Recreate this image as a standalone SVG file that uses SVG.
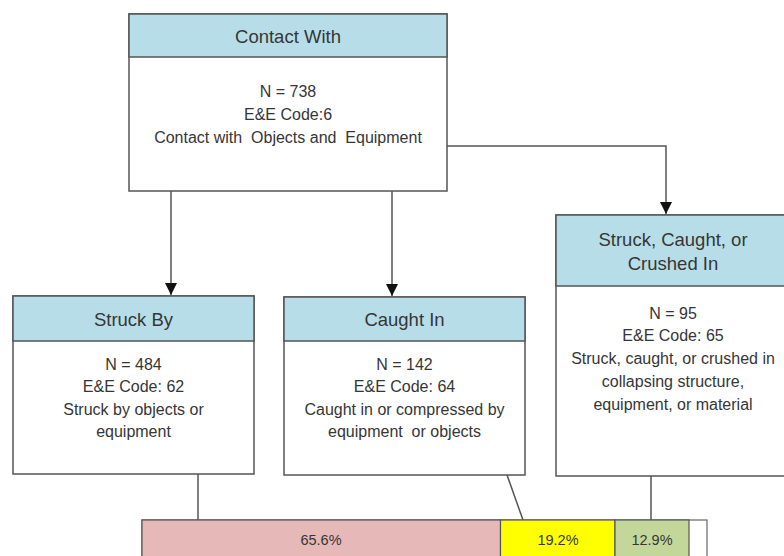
<svg xmlns="http://www.w3.org/2000/svg" width="784" height="556" viewBox="0 0 784 556">
  <style>
    .box { fill: #ffffff; stroke: #555555; stroke-width: 1.5; }
    .head { fill: #b7dee8; stroke: #555555; stroke-width: 1.5; }
    .title { font-family: "Liberation Sans", Arial, sans-serif; font-size: 18.5px; fill: #363636; text-anchor: middle; }
    .body { font-family: "Liberation Sans", Arial, sans-serif; font-size: 16px; fill: #363636; text-anchor: middle; }
    .pct { font-family: "Liberation Sans", Arial, sans-serif; font-size: 14.5px; fill: #363636; text-anchor: middle; }
    .conn { fill: none; stroke: #555555; stroke-width: 1.5; }
    .seg { stroke: #555555; stroke-width: 1.2; }
  </style>
  <defs>
    <marker id="arrow" viewBox="0 0 10 10" refX="10" refY="5" markerWidth="12" markerHeight="12" markerUnits="userSpaceOnUse" orient="auto">
      <path d="M0,0 L10,5 L0,10 Z" fill="#111111"/>
    </marker>
  </defs>

  <rect width="784" height="556" fill="#ffffff"/>

  <!-- connectors -->
  <g id="connectors">
    <line class="conn" x1="171" y1="191" x2="171" y2="295" marker-end="url(#arrow)"/>
    <line class="conn" x1="392" y1="191" x2="392" y2="296" marker-end="url(#arrow)"/>
    <polyline class="conn" points="447,146 666,146 666,214" marker-end="url(#arrow)"/>
    <line class="conn" x1="198" y1="474" x2="198" y2="520"/>
    <line class="conn" x1="507" y1="475" x2="523" y2="520"/>
    <line class="conn" x1="651" y1="476" x2="651" y2="520"/>
  </g>

  <!-- top node -->
  <g id="contact-with">
    <rect class="box" x="129" y="14" width="318" height="177"/>
    <rect class="head" x="129" y="14" width="318" height="43"/>
    <text class="title" x="288" y="43">Contact With</text>
    <text class="body" x="288" y="97">N = 738</text>
    <text class="body" x="288" y="120">E&amp;E Code:6</text>
    <text class="body" x="288" y="143" xml:space="preserve">Contact with  Objects and  Equipment</text>
  </g>

  <!-- left node -->
  <g id="struck-by">
    <rect class="box" x="13" y="296" width="241" height="178"/>
    <rect class="head" x="13" y="296" width="241" height="45"/>
    <text class="title" x="133.5" y="326">Struck By</text>
    <text class="body" x="133.5" y="370">N = 484</text>
    <text class="body" x="133.5" y="392">E&amp;E Code: 62</text>
    <text class="body" x="133.5" y="415">Struck by objects or</text>
    <text class="body" x="133.5" y="437">equipment</text>
  </g>

  <!-- middle node -->
  <g id="caught-in">
    <rect class="box" x="284" y="297" width="241" height="178"/>
    <rect class="head" x="284" y="297" width="241" height="44"/>
    <text class="title" x="404.5" y="326">Caught In</text>
    <text class="body" x="404.5" y="370">N = 142</text>
    <text class="body" x="404.5" y="392">E&amp;E Code: 64</text>
    <text class="body" x="404.5" y="415">Caught in or compressed by</text>
    <text class="body" x="404.5" y="437" xml:space="preserve">equipment  or objects</text>
  </g>

  <!-- right node -->
  <g id="struck-caught-crushed">
    <rect class="box" x="556" y="215" width="236" height="261"/>
    <rect class="head" x="556" y="215" width="236" height="71"/>
    <text class="title" x="673" y="246">Struck, Caught, or</text>
    <text class="title" x="673" y="270">Crushed In</text>
    <text class="body" x="673" y="319">N = 95</text>
    <text class="body" x="673" y="341">E&amp;E Code: 65</text>
    <text class="body" x="673" y="364">Struck, caught, or crushed in</text>
    <text class="body" x="673" y="387">collapsing structure,</text>
    <text class="body" x="673" y="410">equipment, or material</text>
  </g>

  <!-- share bar -->
  <g id="share-bar">
    <rect x="142" y="520" width="565" height="40" fill="#ffffff" stroke="#666666" stroke-width="1.2"/>
    <rect class="seg" x="142" y="520" width="358.5" height="40" fill="#e6b8b7"/>
    <rect class="seg" x="500.5" y="520" width="114.5" height="40" fill="#ffff00"/>
    <rect class="seg" x="615" y="520" width="74" height="40" fill="#c4d79b"/>
    <text class="pct" x="321" y="545">65.6%</text>
    <text class="pct" x="558" y="545">19.2%</text>
    <text class="pct" x="652" y="545">12.9%</text>
  </g>
</svg>
